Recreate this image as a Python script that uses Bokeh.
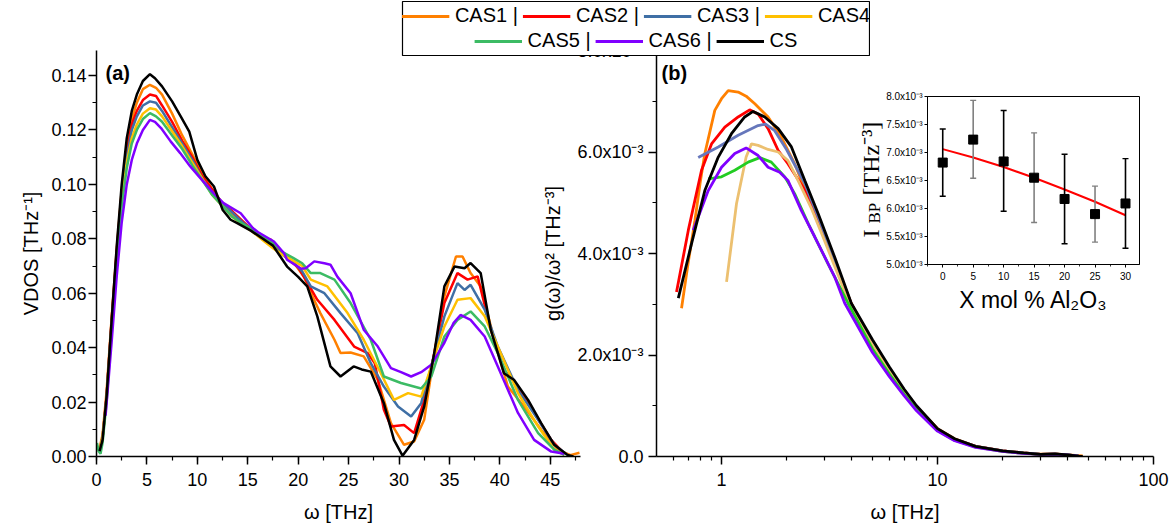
import math
from bokeh.plotting import figure
from bokeh.models import (Range1d, FixedTicker, SingleIntervalTicker, NumeralTickFormatter,
                          Label, Legend, LegendItem, GridBox)
from bokeh.embed import file_html
from bokeh.resources import INLINE

FONT = "Liberation Sans"
SERIF = "Liberation Serif"

# ---------------- data ----------------
series = ["CAS1", "CAS2", "CAS3", "CAS4", "CAS5", "CAS6", "CS"]
legend_labels = ["CAS1 |", "CAS2 |", "CAS3 |", "CAS4", "CAS5 |", "CAS6 |", "CS"]
colors_a = ["#ff8000", "#ff0000", "#3f6fa5", "#ffc000", "#3cbb64", "#8000ff", "#000000"]
colors_b = ["#ff8000", "#ff0000", "#6677bb", "#ecc070", "#22cc22", "#8000ff", "#000000"]

# panel (a): VDOS vs omega [THz]
a_cas1_w = [0.3, 0.6, 1.0, 1.5, 2.0, 2.5, 3.0, 3.5, 4.0, 4.6, 5.3, 5.9, 6.5, 7.5, 8.5, 9.5, 10.5, 11.5, 12.5,
            13.5, 14.5, 15.5, 16.5, 17.5, 18.6, 19.6, 20.6, 21.4, 22.2, 23.6, 24.2, 25.2, 26.5, 27.9, 29.2,
            30.5, 31.5, 32.5, 33.5, 34.5, 35.65, 36.3, 37.1, 38.1, 39.45, 40.8, 42.4, 44.1, 45.75, 47.0, 47.9]
a_cas1_v = [0.003, 0.008, 0.024, 0.051, 0.076, 0.098, 0.114, 0.124, 0.130, 0.135, 0.1366, 0.1355, 0.133,
            0.126, 0.118, 0.111, 0.104, 0.098, 0.093, 0.089, 0.086, 0.083, 0.080, 0.077, 0.0747, 0.071,
            0.066, 0.059, 0.0527, 0.0429, 0.038, 0.0382, 0.0368, 0.0282, 0.0123, 0.0043, 0.0055, 0.0135,
            0.038, 0.0588, 0.0735, 0.0735, 0.0674, 0.0625, 0.0429, 0.0257, 0.0184, 0.0098, 0.0025, 0.0005, 0.0014]

a_cas2_w = [0.3, 0.6, 1.0, 1.5, 2.0, 2.5, 3.0, 3.5, 4.0, 4.6, 5.3, 5.9, 6.5, 7.5, 8.5, 9.5, 10.5, 11.5, 12.5,
            13.5, 14.5, 15.5, 16.5, 17.3, 18.0, 19.0, 20.0, 20.9, 21.9, 23.6, 25.55, 26.9, 27.6, 28.5, 29.2,
            30.5, 31.5, 32.5, 33.5, 34.5, 35.8, 36.8, 37.8, 39.1, 40.4, 41.8, 43.4, 45.1, 46.4]
a_cas2_v = [0.002, 0.007, 0.022, 0.050, 0.075, 0.097, 0.112, 0.122, 0.127, 0.131, 0.133, 0.1325, 0.129,
            0.123, 0.116, 0.110, 0.103, 0.098, 0.093, 0.090, 0.0865, 0.083, 0.0805, 0.0797, 0.076, 0.0725,
            0.0695, 0.064, 0.0576, 0.0502, 0.0404, 0.038, 0.0343, 0.0172, 0.011, 0.0116, 0.0086, 0.0208,
            0.038, 0.0564, 0.0674, 0.065, 0.0662, 0.0466, 0.0319, 0.0257, 0.016, 0.0061, 0.001]

a_cas3_w = [0.3, 0.6, 1.0, 1.5, 2.0, 2.5, 3.0, 3.5, 4.0, 4.6, 5.3, 5.9, 6.5, 7.5, 8.5, 9.5, 10.5, 11.5, 12.5,
            13.5, 14.5, 15.5, 16.5, 17.5, 18.5, 19.5, 20.4, 21.25, 22.6, 24.2, 25.9, 27.2, 28.5, 29.9, 31.2,
            32.2, 33.2, 34.5, 35.8, 36.5, 37.1, 38.5, 39.8, 41.8, 43.8, 45.4, 46.7]
a_cas3_v = [0.002, 0.007, 0.022, 0.049, 0.074, 0.096, 0.110, 0.120, 0.125, 0.129, 0.1305, 0.130, 0.127,
            0.121, 0.115, 0.109, 0.102, 0.097, 0.093, 0.0895, 0.086, 0.083, 0.080, 0.077, 0.074, 0.0715,
            0.068, 0.0625, 0.060, 0.0527, 0.0453, 0.0343, 0.0257, 0.0184, 0.0147, 0.0196, 0.0331, 0.0515,
            0.0637, 0.0612, 0.0631, 0.054, 0.0404, 0.0245, 0.0135, 0.0043, 0.0006]

a_cas4_w = [0.3, 0.6, 1.0, 1.5, 2.0, 2.5, 3.0, 3.5, 4.0, 4.6, 5.3, 5.9, 6.5, 7.5, 8.5, 9.5, 10.5, 11.5, 12.5,
            13.5, 14.5, 15.5, 16.5, 17.5, 18.5, 19.5, 20.4, 21.25, 22.9, 24.9, 26.5, 28.2, 29.5, 30.9, 32.2,
            33.2, 34.5, 35.8, 37.1, 38.5, 39.8, 41.8, 43.8, 45.4, 46.4]
a_cas4_v = [0.002, 0.007, 0.021, 0.048, 0.073, 0.094, 0.108, 0.117, 0.122, 0.126, 0.128, 0.1275, 0.125,
            0.1195, 0.114, 0.108, 0.102, 0.096, 0.092, 0.088, 0.085, 0.0825, 0.0795, 0.0765, 0.074, 0.072,
            0.070, 0.065, 0.0625, 0.0527, 0.0429, 0.0306, 0.0208, 0.0233, 0.022, 0.0331, 0.0478, 0.0576,
            0.0582, 0.0515, 0.0404, 0.0233, 0.011, 0.0025, 0.0006]

a_cas5_w = [0.05, 0.2, 0.4, 0.6, 1.0, 1.5, 2.0, 2.5, 3.0, 3.5, 4.0, 4.6, 5.3, 5.9, 6.5, 7.5, 8.5, 9.5, 10.5,
            11.5, 12.5, 13.5, 14.5, 15.5, 16.5, 17.5, 18.5, 19.5, 20.4, 21.25, 22.2, 23.6, 25.2, 27.2, 28.5,
            30.2, 32.2, 33.2, 34.5, 35.8, 37.1, 38.5, 39.8, 41.8, 43.8, 45.4, 46.4]
a_cas5_v = [0.005, 0.002, 0.001, 0.005, 0.020, 0.047, 0.071, 0.092, 0.106, 0.115, 0.120, 0.124, 0.1262,
            0.125, 0.123, 0.118, 0.113, 0.107, 0.1015, 0.096, 0.092, 0.088, 0.0855, 0.0835, 0.081, 0.0785,
            0.075, 0.073, 0.071, 0.0674, 0.0674, 0.065, 0.0564, 0.0429, 0.0294, 0.027, 0.025, 0.0294,
            0.0441, 0.0502, 0.0533, 0.0478, 0.038, 0.0208, 0.0086, 0.0025, 0.0006]

a_cas6_w = [0.9, 1.5, 2.0, 2.5, 3.0, 3.5, 4.0, 4.6, 5.3, 5.8, 6.4, 7.35, 8.3, 9.3, 10.3, 11.6, 12.6, 14.3,
            15.5, 16.0, 17.6, 18.6, 18.9, 20.3, 20.75, 21.6, 22.6, 23.2, 23.9, 25.2, 26.5, 27.9, 29.2, 30.2,
            31.2, 32.2, 33.2, 34.5, 35.4, 36.1, 37.1, 38.5, 39.8, 41.8, 43.4, 45.1, 46.4]
a_cas6_v = [0.015, 0.042, 0.066, 0.086, 0.100, 0.109, 0.115, 0.120, 0.1237, 0.123, 0.1207, 0.1158, 0.1115,
            0.1066, 0.1023, 0.0968, 0.0931, 0.0894, 0.084, 0.0825, 0.079, 0.0747, 0.0723, 0.069, 0.0692,
            0.0717, 0.071, 0.0705, 0.066, 0.060, 0.0466, 0.0404, 0.0325, 0.031, 0.0294, 0.031, 0.0337,
            0.0418, 0.049, 0.052, 0.0502, 0.0441, 0.0331, 0.016, 0.0061, 0.0018, 0.001]

a_cs_w = [0.3, 0.6, 1.0, 1.5, 2.0, 2.5, 3.0, 3.5, 4.0, 4.6, 5.3, 5.8, 6.5, 7.5, 8.35, 9.2, 10.0, 10.8, 11.65,
          12.5, 13.3, 14.0, 15.3, 16.5, 17.5, 18.9, 20.0, 20.9, 21.9, 23.2, 24.2, 25.5, 26.3, 27.2, 28.5,
          29.5, 30.35, 31.5, 32.5, 33.5, 34.5, 35.5, 36.5, 37.1, 38.1, 39.1, 40.4, 41.4, 42.8, 44.1, 45.4,
          46.7, 47.3]
a_cs_v = [0.002, 0.006, 0.022, 0.050, 0.077, 0.100, 0.117, 0.127, 0.133, 0.138, 0.1405, 0.139, 0.136,
          0.1305, 0.125, 0.1194, 0.109, 0.103, 0.0992, 0.0907, 0.087, 0.0857, 0.083, 0.080, 0.0775, 0.0698,
          0.066, 0.0625, 0.0515, 0.0331, 0.0294, 0.0331, 0.032, 0.0312, 0.0196, 0.0061, 0.0003, 0.0061,
          0.0184, 0.038, 0.0625, 0.0698, 0.0692, 0.0711, 0.0674, 0.0466, 0.0306, 0.0282, 0.0208, 0.0123,
          0.0043, 0.0006, 0.0]

# panel (b): g(omega)/omega^2 vs omega (log)
b_cas1_w = [0.653, 0.70, 0.753, 0.80, 0.837, 0.931, 1.0, 1.074, 1.194, 1.30, 1.426, 1.643, 1.893, 2.18, 2.5,
            2.8, 3.34, 4.0, 5.0, 6.0, 7.0, 8.0, 10, 12, 15, 20, 25, 30, 35, 40, 47]
b_cas1_g = [2.92e-3, 3.8e-3, 4.65e-3, 5.45e-3, 5.97e-3, 6.82e-3, 7.05e-3, 7.21e-3, 7.18e-3, 7.1e-3, 6.95e-3,
            6.69e-3, 6.29e-3, 5.77e-3, 5.15e-3, 4.6e-3, 3.85e-3, 3.0e-3, 2.25e-3, 1.72e-3, 1.3e-3, 0.98e-3,
            0.55e-3, 0.35e-3, 0.2e-3, 0.11e-3, 0.07e-3, 0.045e-3, 0.05e-3, 0.03e-3, 0.01e-3]
b_cas2_w = [0.619, 0.702, 0.808, 0.899, 1.036, 1.194, 1.35, 1.477, 1.643, 1.83, 2.03, 2.43, 2.8, 3.34, 4.0,
            5.0, 6.0, 7.0, 8.0, 10, 12, 15, 20, 25, 30, 35, 40, 45]
b_cas2_g = [3.24e-3, 4.46e-3, 5.64e-3, 6.16e-3, 6.49e-3, 6.69e-3, 6.83e-3, 6.75e-3, 6.46e-3, 6.03e-3,
            5.77e-3, 5.25e-3, 4.65e-3, 3.82e-3, 3.0e-3, 2.25e-3, 1.72e-3, 1.3e-3, 0.98e-3, 0.54e-3, 0.34e-3,
            0.2e-3, 0.11e-3, 0.07e-3, 0.04e-3, 0.045e-3, 0.03e-3, 0.005e-3]
b_cas3_w = [0.78, 0.966, 1.194, 1.477, 1.6, 1.763, 2.0, 2.43, 2.8, 3.34, 4.0, 5, 6, 7, 8, 10, 12, 15, 20, 25,
            30, 35, 40, 45]
b_cas3_g = [5.89e-3, 6.10e-3, 6.33e-3, 6.52e-3, 6.55e-3, 6.42e-3, 6.05e-3, 5.38e-3, 4.72e-3, 3.86e-3,
            2.98e-3, 2.26e-3, 1.73e-3, 1.31e-3, 0.98e-3, 0.54e-3, 0.34e-3, 0.2e-3, 0.11e-3, 0.07e-3,
            0.04e-3, 0.045e-3, 0.03e-3, 0.005e-3]
b_cas4_w = [1.055, 1.173, 1.30, 1.376, 1.477, 1.643, 1.83, 2.03, 2.26, 2.6, 3.0, 3.34, 4.0, 5, 6, 7, 8, 10,
            12, 15, 20, 25, 30, 35, 40, 45]
b_cas4_g = [3.44e-3, 4.98e-3, 5.90e-3, 6.16e-3, 6.13e-3, 6.05e-3, 6.0e-3, 5.83e-3, 5.44e-3, 4.9e-3, 4.25e-3,
            3.75e-3, 2.92e-3, 2.2e-3, 1.69e-3, 1.28e-3, 0.96e-3, 0.53e-3, 0.33e-3, 0.19e-3, 0.1e-3,
            0.065e-3, 0.04e-3, 0.045e-3, 0.03e-3, 0.005e-3]
b_cas5_w = [0.868, 1.0, 1.152, 1.329, 1.503, 1.70, 1.963, 2.18, 2.52, 3.11, 3.85, 5, 6, 7, 8, 10, 12, 15, 20,
            25, 30, 35, 40, 45]
b_cas5_g = [5.47e-3, 5.51e-3, 5.64e-3, 5.80e-3, 5.89e-3, 5.80e-3, 5.51e-3, 5.18e-3, 4.59e-3, 3.80e-3,
            3.02e-3, 2.12e-3, 1.62e-3, 1.23e-3, 0.93e-3, 0.51e-3, 0.32e-3, 0.19e-3, 0.1e-3, 0.065e-3,
            0.04e-3, 0.045e-3, 0.03e-3, 0.005e-3]
b_cas6_w = [0.74, 0.868, 1.0, 1.152, 1.30, 1.477, 1.643, 1.86, 2.03, 2.34, 2.70, 3.34, 3.72, 5, 6, 7, 8, 10,
            12, 15, 20, 25, 30, 35, 40, 45]
b_cas6_g = [4.46e-3, 5.24e-3, 5.70e-3, 5.97e-3, 6.08e-3, 5.93e-3, 5.70e-3, 5.60e-3, 5.44e-3, 4.85e-3,
            4.33e-3, 3.54e-3, 3.02e-3, 2.05e-3, 1.57e-3, 1.2e-3, 0.9e-3, 0.5e-3, 0.31e-3, 0.18e-3, 0.1e-3,
            0.06e-3, 0.04e-3, 0.045e-3, 0.03e-3, 0.005e-3]
b_cs_w = [0.631, 0.727, 0.837, 0.966, 1.112, 1.28, 1.40, 1.586, 1.83, 2.107, 2.43, 2.80, 3.34, 3.99, 5.0,
          6.0, 7.0, 8.0, 10, 12, 15, 20, 25, 30, 35, 40, 45, 47]
b_cs_g = [3.12e-3, 4.20e-3, 5.24e-3, 5.90e-3, 6.36e-3, 6.69e-3, 6.80e-3, 6.69e-3, 6.46e-3, 6.10e-3, 5.44e-3,
          4.79e-3, 3.93e-3, 3.02e-3, 2.3e-3, 1.76e-3, 1.33e-3, 1.0e-3, 0.55e-3, 0.35e-3, 0.2e-3, 0.11e-3,
          0.07e-3, 0.04e-3, 0.05e-3, 0.03e-3, 0.005e-3, 0.0]

# inset: boson peak intensity vs Al2O3 content
x_mol = [0, 5, 10, 15, 20, 25, 30]
ibp = [6.82e-3, 7.23e-3, 6.84e-3, 6.55e-3, 6.17e-3, 5.90e-3, 6.09e-3]
ibp_lo = [6.22e-3, 6.54e-3, 5.95e-3, 5.75e-3, 5.37e-3, 5.40e-3, 5.29e-3]
ibp_hi = [7.42e-3, 7.93e-3, 7.75e-3, 7.35e-3, 6.97e-3, 6.40e-3, 6.89e-3]
err_colors = ["#000000", "#808080", "#000000", "#808080", "#000000", "#808080", "#000000"]
fit_x = [0, 5, 10, 15, 20, 25, 30]
fit_y = [7.06e-3, 6.91e-3, 6.74e-3, 6.55e-3, 6.34e-3, 6.12e-3, 5.88e-3]

b_yticks = [0.0, 0.002, 0.004, 0.006, 0.008]
b_ylabels = ["0.0", "2.0x10\u207b\u00b3", "4.0x10\u207b\u00b3", "6.0x10\u207b\u00b3", "8.0x10\u207b\u00b3"]
ins_yticks = [0.005, 0.0055, 0.006, 0.0065, 0.007, 0.0075, 0.008]
ins_ylabels = ["5.0x10\u207b\u00b3", "5.5x10\u207b\u00b3", "6.0x10\u207b\u00b3", "6.5x10\u207b\u00b3",
               "7.0x10\u207b\u00b3", "7.5x10\u207b\u00b3", "8.0x10\u207b\u00b3"]

a_data = [(a_cas1_w, a_cas1_v), (a_cas2_w, a_cas2_v), (a_cas3_w, a_cas3_v), (a_cas4_w, a_cas4_v),
          (a_cas5_w, a_cas5_v), (a_cas6_w, a_cas6_v), (a_cs_w, a_cs_v)]
b_data = [(b_cas1_w, b_cas1_g), (b_cas2_w, b_cas2_g), (b_cas3_w, b_cas3_g), (b_cas4_w, b_cas4_g),
          (b_cas5_w, b_cas5_g), (b_cas6_w, b_cas6_g), (b_cs_w, b_cs_g)]


def style_axis(ax, tick_size="18px", label_size="20px", tick_out=8, minor_out=4, lw=1.5):
    ax.axis_line_color = "black"
    ax.axis_line_width = lw
    ax.major_tick_line_color = "black"
    ax.major_tick_line_width = lw
    ax.minor_tick_line_color = "black"
    ax.minor_tick_line_width = lw * 0.8
    ax.major_tick_in = 0
    ax.major_tick_out = tick_out
    ax.minor_tick_in = 0
    ax.minor_tick_out = minor_out
    ax.major_label_text_font = FONT
    ax.major_label_text_font_size = tick_size
    ax.major_label_text_color = "black"
    ax.axis_label_text_font = FONT
    ax.axis_label_text_font_size = label_size
    ax.axis_label_text_font_style = "normal"
    ax.axis_label_text_color = "black"


def clean(p):
    p.xgrid.visible = False
    p.ygrid.visible = False
    p.outline_line_color = None


# ---------------- panel (a) ----------------
pa = figure(width=590, height=528, x_range=Range1d(0, 48), y_range=Range1d(0, 0.1492),
            output_backend="svg", toolbar_location=None, title=None, frame_align=False,
            min_border_left=96, min_border_right=10, min_border_top=50, min_border_bottom=72)
clean(pa)
for (w, v), c in zip(a_data, colors_a):
    pa.line(x=w, y=v, line_color=c, line_width=2.5)
style_axis(pa.xaxis[0])
style_axis(pa.yaxis[0])
pa.xaxis.ticker = SingleIntervalTicker(interval=5, num_minor_ticks=2)
pa.xaxis.formatter = NumeralTickFormatter(format="0")
pa.yaxis.ticker = SingleIntervalTicker(interval=0.02, num_minor_ticks=2)
pa.yaxis.formatter = NumeralTickFormatter(format="0.00")
pa.xaxis.axis_label = "\u03c9 [THz]"
pa.yaxis.axis_label = "VDOS [THz\u207b\u00b9]"
pa.xaxis.major_label_standoff = 8
pa.xaxis.axis_label_standoff = 12
pa.yaxis.major_label_standoff = 2
pa.yaxis.axis_label_standoff = 6
pa.add_layout(Label(x=9, y=395, x_units="screen", y_units="screen", text="(a)", text_font=FONT,
                    text_font_size="20px", text_font_style="bold", text_baseline="top",
                    text_color="black"))

# ---------------- panel (b) ----------------
pb = figure(width=636, height=528, x_range=Range1d(0.5, 100), y_range=Range1d(0, 0.008),
            x_axis_type="log", output_backend="svg", toolbar_location=None, title=None, frame_align=False,
            min_border_left=122, min_border_right=17, min_border_top=50, min_border_bottom=72)
clean(pb)
pb.border_fill_alpha = 0
for (w, g), c in zip(b_data, colors_b):
    pb.line(x=w, y=g, line_color=c, line_width=2.8)
style_axis(pb.xaxis[0])
style_axis(pb.yaxis[0])
minor_log = [0.6, 0.7, 0.8, 0.9] + list(range(2, 10)) + list(range(20, 100, 10))
pb.xaxis.ticker = FixedTicker(ticks=[1, 10, 100], minor_ticks=minor_log)
pb.xaxis.major_label_overrides = {1: "1", 10: "10", 100: "100"}
pb.yaxis.ticker = FixedTicker(ticks=b_yticks, minor_ticks=[0.001, 0.003, 0.005, 0.007])
pb.yaxis.major_label_overrides = dict(zip(b_yticks, b_ylabels))
pb.xaxis.axis_label = "\u03c9 [THz]"
pb.yaxis.axis_label = "g(\u03c9)/\u03c9\u00b2 [THz\u207b\u00b3]"
pb.xaxis.major_label_standoff = 8
pb.xaxis.axis_label_standoff = 12
pb.yaxis.major_label_standoff = 5
pb.yaxis.axis_label_standoff = 10
pb.add_layout(Label(x=5, y=395, x_units="screen", y_units="screen", text="(b)", text_font=FONT,
                    text_font_size="20px", text_font_style="bold", text_baseline="top",
                    text_color="black"))
# inset y-axis title (I_BP [THz^-3]); drawn in panel (b) frame, beneath the transparent inset border
for txt, xx, yy, fs in [("I", 214, 219, "24px"), ("BP", 218, 233, "17px"),
                        ("[THz\u207b\u00b3]", 214, 261, "24px")]:
    pb.add_layout(Label(x=xx, y=yy, x_units="screen", y_units="screen", text=txt, angle=math.pi / 2,
                        text_font=SERIF, text_font_size=fs, text_align="left",
                        text_baseline="alphabetic", text_color="black"))

# ---------------- inset ----------------
pi_ = figure(width=296, height=228, x_range=Range1d(-2.5, 32.3), y_range=Range1d(0.005, 0.008),
             output_backend="svg", toolbar_location=None, title=None, frame_align=False,
             min_border_left=76, min_border_right=8, min_border_top=8, min_border_bottom=52)
pi_.xgrid.visible = False
pi_.ygrid.visible = False
pi_.outline_line_color = "black"
pi_.outline_line_width = 1
pi_.border_fill_alpha = 0
pi_.background_fill_color = "white"
pi_.line(x=fit_x, y=fit_y, line_color="#ff0000", line_width=2)
pi_.segment(x0=x_mol, y0=ibp_lo, x1=x_mol, y1=ibp_hi, line_color=err_colors, line_width=1.6)
pi_.scatter(x=x_mol, y=ibp_lo, marker="dash", size=6, line_color=err_colors, line_width=1.4)
pi_.scatter(x=x_mol, y=ibp_hi, marker="dash", size=6, line_color=err_colors, line_width=1.4)
pi_.scatter(x=x_mol, y=ibp, marker="square", size=9, fill_color="black", line_color="black")
style_axis(pi_.xaxis[0], tick_size="10px", label_size="23px", tick_out=3, minor_out=2, lw=1)
style_axis(pi_.yaxis[0], tick_size="10px", label_size="23px", tick_out=3, minor_out=2, lw=1)
pi_.xaxis.ticker = SingleIntervalTicker(interval=5, num_minor_ticks=2)
pi_.xaxis.formatter = NumeralTickFormatter(format="0")
pi_.yaxis.ticker = FixedTicker(ticks=ins_yticks)
pi_.yaxis.major_label_overrides = dict(zip(ins_yticks, ins_ylabels))
pi_.xaxis.axis_label = "X mol % Al\u2082O\u2083"
pi_.xaxis.major_label_standoff = 4
pi_.xaxis.axis_label_standoff = 4
pi_.yaxis.major_label_standoff = 2

# ---------------- legend box ----------------
pl = figure(width=469, height=56, x_range=Range1d(100, 101), y_range=Range1d(100, 101),
            x_axis_type=None, y_axis_type=None, output_backend="svg", toolbar_location=None,
            title=None, frame_align=False, min_border=1)
pl.outline_line_color = "black"
pl.outline_line_width = 1.2
pl.border_fill_alpha = 0
pl.background_fill_color = "white"
# legend sample lines reuse the series data; the legend box's ranges keep them out of view
rends = [pl.line(x=w, y=v, line_color=c, line_width=3) for (w, v), c in zip(a_data, colors_a)]


def make_legend(idx, loc):
    return Legend(items=[LegendItem(label=legend_labels[i], renderers=[rends[i]]) for i in idx],
                  location=loc, orientation="horizontal", label_text_font=FONT,
                  label_text_font_size="20px", label_text_color="black", label_height=20,
                  glyph_height=20, glyph_width=48, label_standoff=6, spacing=4, padding=0, margin=3,
                  border_line_alpha=0, background_fill_alpha=0)


pl.add_layout(make_legend([0, 1, 2, 3], "top_center"))
pl.add_layout(make_legend([4, 5, 6], "bottom_center"))

pb.margin = (0, 0, 0, 534)
pi_.margin = (88, 0, 0, 851)
pl.margin = (0, 0, 0, 401)

layout = GridBox(children=[(pa, 0, 0), (pb, 0, 0), (pi_, 0, 0), (pl, 0, 0)], spacing=0)

open("out.html", "w").write(file_html(layout, INLINE))
